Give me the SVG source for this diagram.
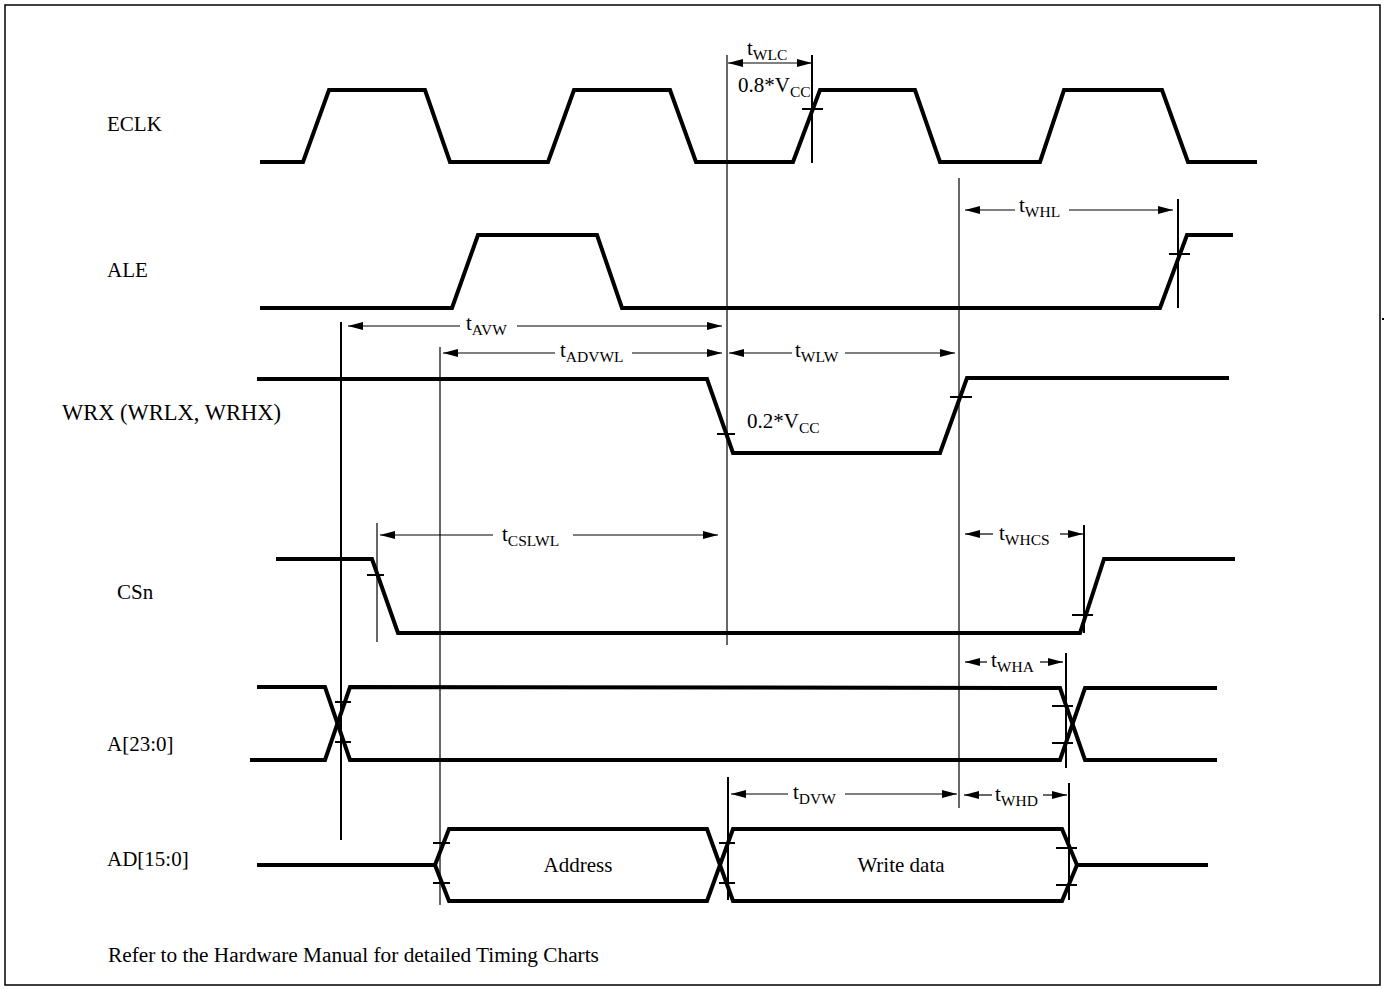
<svg xmlns="http://www.w3.org/2000/svg" width="1385" height="989" viewBox="0 0 1385 989">
<style>
text{font-family:"Liberation Serif","Times New Roman",serif;font-size:21px;fill:#000}
.sub{font-size:15.5px}
.sig{fill:none;stroke:#000;stroke-width:4;stroke-linejoin:miter}
.thin{stroke:#000;stroke-width:1.2;fill:none}
.med{stroke:#000;stroke-width:2;fill:none}
.arr{stroke:#000;stroke-width:1.2;fill:none;marker-end:url(#ah)}
</style>
<defs>
<marker id="ah" viewBox="0 0 15 8" refX="15" refY="4" markerWidth="15" markerHeight="8" orient="auto" markerUnits="userSpaceOnUse"><path d="M0,0 L15,4 L0,8 z" fill="#000"/></marker>
</defs>
<rect x="5" y="5" width="1375" height="980" fill="#fff" stroke="#000" stroke-width="1.5"/>
<rect x="1382" y="318" width="2" height="2" fill="#000"/>

<g id="labels">
<text x="107" y="131">ECLK</text>
<text x="107" y="277">ALE</text>
<text x="62" y="420" style="font-size:22.5px">WRX (WRLX, WRHX)</text>
<text x="117" y="599">CSn</text>
<text x="107" y="751">A[23:0]</text>
<text x="107" y="866">AD[15:0]</text>
<text x="108" y="962" style="font-size:21.3px">Refer to the Hardware Manual for detailed Timing Charts</text>
</g>

<g id="ECLK">
<polyline class="sig" points="260,162 303,162 329,90 425,90 450,162 548,162 574,90 670,90 696,162 793,162 820,90 915,90 940,162 1040,162 1064,90 1162,90 1188,162 1257,162"/>
<line class="med" x1="802" y1="109" x2="823" y2="109"/>
</g>

<g id="ALE">
<polyline class="sig" points="260,308 452,308 478,235 597,235 622,308 1160,308 1187,235 1233,235"/>
<line class="med" x1="1169" y1="254" x2="1190" y2="254"/>
</g>

<g id="WRX">
<polyline class="sig" points="257,379 707,379 733,453 940,453 967,378 1229,378"/>
<line class="med" x1="717" y1="434" x2="735" y2="434"/>
<line class="med" x1="950" y1="397" x2="972" y2="397"/>
</g>

<g id="CSn">
<polyline class="sig" points="276,559 372,559 398,633 1080,633 1104,559 1235,559"/>
<line class="med" x1="367" y1="575" x2="384" y2="575"/>
<line class="med" x1="1072" y1="615" x2="1093" y2="615"/>
</g>

<g id="A">
<polyline class="sig" points="257,687 325,687 350,760 1060,760 1085,688 1217,688"/>
<polyline class="sig" points="250,760 325,760 350,687 1060,688 1085,760 1217,760"/>
<line class="med" x1="335" y1="702" x2="351" y2="702"/>
<line class="med" x1="335" y1="742" x2="351" y2="742"/>
<line class="med" x1="1052" y1="706" x2="1073" y2="706"/>
<line class="med" x1="1052" y1="743" x2="1073" y2="743"/>
</g>

<g id="AD">
<polyline class="sig" points="257,865 435,865 449,829 707,829 733,901 1062,901 1077,865 1208,865"/>
<polyline class="sig" points="435,865 449,901 707,901 733,829 1062,829 1077,865"/>
<line class="med" x1="433" y1="843" x2="450" y2="843"/>
<line class="med" x1="433" y1="883" x2="450" y2="883"/>
<line class="med" x1="719" y1="843" x2="735" y2="843"/>
<line class="med" x1="719" y1="883" x2="735" y2="883"/>
<line class="med" x1="1056" y1="848" x2="1077" y2="848"/>
<line class="med" x1="1056" y1="885" x2="1077" y2="885"/>
<text x="578" y="872" text-anchor="middle">Address</text>
<text x="901" y="872" text-anchor="middle">Write data</text>
</g>

<g id="connectors">
<line class="med" x1="341" y1="322" x2="341" y2="840"/>
<line class="thin" x1="440" y1="347" x2="440" y2="905"/>
<line class="thin" x1="727" y1="55" x2="727" y2="645"/>
<line class="med" x1="812" y1="55" x2="812" y2="163"/>
<line class="thin" x1="959" y1="178" x2="959" y2="808"/>
<line class="med" x1="1178" y1="199" x2="1178" y2="308"/>
<line class="thin" x1="377" y1="523" x2="377" y2="642"/>
<line class="med" x1="1084" y1="525" x2="1084" y2="633"/>
<line class="med" x1="1066" y1="653" x2="1066" y2="768"/>
<line class="med" x1="728" y1="777" x2="728" y2="900"/>
<line class="med" x1="1069" y1="783" x2="1069" y2="900"/>

<!-- tWLC -->
<line class="arr" x1="770" y1="63" x2="728" y2="63"/>
<line class="arr" x1="770" y1="63" x2="812" y2="63"/>
<!-- tWHL -->
<line class="arr" x1="1015" y1="210" x2="965" y2="210"/>
<line class="arr" x1="1069" y1="210" x2="1173" y2="210"/>
<!-- tAVW -->
<line class="arr" x1="460" y1="326" x2="348" y2="326"/>
<line class="arr" x1="517" y1="326" x2="722" y2="326"/>
<!-- tADVWL -->
<line class="arr" x1="555" y1="353" x2="443" y2="353"/>
<line class="arr" x1="632" y1="353" x2="722" y2="353"/>
<!-- tWLW -->
<line class="arr" x1="792" y1="353" x2="729" y2="353"/>
<line class="arr" x1="845" y1="353" x2="955" y2="353"/>
<!-- tCSLWL -->
<line class="arr" x1="493" y1="535" x2="380" y2="535"/>
<line class="arr" x1="573" y1="535" x2="718" y2="535"/>
<!-- tWHCS -->
<line class="arr" x1="993" y1="534" x2="965" y2="534"/>
<line class="arr" x1="1060" y1="534" x2="1083" y2="534"/>
<!-- tWHA -->
<line class="arr" x1="987" y1="662" x2="965" y2="662"/>
<line class="arr" x1="1040" y1="662" x2="1063" y2="662"/>
<!-- tDVW -->
<line class="arr" x1="788" y1="794" x2="731" y2="794"/>
<line class="arr" x1="845" y1="794" x2="957" y2="794"/>
<!-- tWHD -->
<line class="arr" x1="992" y1="795" x2="964" y2="795"/>
<line class="arr" x1="1043" y1="795" x2="1067" y2="795"/>
</g>

<g id="timing-labels">
<text x="747" y="55">t<tspan class="sub" dy="5">WLC</tspan></text>
<text x="738" y="92">0.8*V<tspan class="sub" dy="5">CC</tspan></text>
<text x="1019" y="212">t<tspan class="sub" dy="5">WHL</tspan></text>
<text x="466" y="330">t<tspan class="sub" dy="5">AVW</tspan></text>
<text x="560" y="357">t<tspan class="sub" dy="5">ADVWL</tspan></text>
<text x="795" y="357">t<tspan class="sub" dy="5">WLW</tspan></text>
<text x="747" y="428">0.2*V<tspan class="sub" dy="5">CC</tspan></text>
<text x="502" y="541">t<tspan class="sub" dy="5">CSLWL</tspan></text>
<text x="999" y="540">t<tspan class="sub" dy="5">WHCS</tspan></text>
<text x="991" y="667">t<tspan class="sub" dy="5">WHA</tspan></text>
<text x="793" y="799">t<tspan class="sub" dy="5">DVW</tspan></text>
<text x="995" y="801">t<tspan class="sub" dy="5">WHD</tspan></text>
</g>
</svg>
